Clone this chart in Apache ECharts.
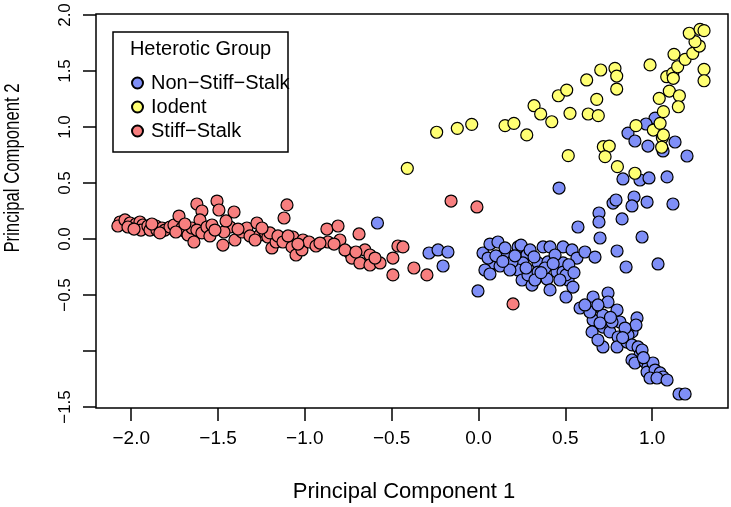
<!DOCTYPE html>
<html>
<head>
<meta charset="utf-8">
<script src="https://cdn.jsdelivr.net/npm/echarts@6/dist/echarts.min.js"></script>
<style>
html,body{margin:0;padding:0;background:#fff;}
#chart{width:731px;height:507px;}
</style>
</head>
<body>
<div id="chart"></div>
<script>
// ---- data (PC1, PC2) ----
const seriesNames = ['Non−Stiff−Stalk', 'Iodent', 'Stiff−Stalk'];
const xTicks = [-2.0, -1.5, -1.0, -0.5, 0.0, 0.5, 1.0];
const yTicks = [-1.5, -1.0, -0.5, 0.0, 0.5, 1.0, 1.5, 2.0];
const yTickLabels = [-1.5, -0.5, 0.0, 0.5, 1.0, 1.5, 2.0];

const nonStiffStalk = [
[-0.582,0.143],[-0.285,-0.125],[-0.233,-0.098],[-0.176,-0.116],[-0.204,-0.241],[-0.003,-0.464],
[0.026,-0.125],[0.066,-0.045],[0.112,-0.027],[0.084,-0.214],[0.037,-0.277],[0.066,-0.3125],
[0.164,-0.143],[0.124,-0.241],[0.228,-0.071],[0.245,-0.054],[0.279,-0.143],[0.256,-0.214],
[0.228,-0.277],[0.251,-0.366],[0.308,-0.411],[0.285,-0.321],[0.343,-0.214],[0.343,-0.295],
[0.372,-0.071],[0.412,-0.071],[0.400,-0.205],[0.395,-0.357],[0.412,-0.455],[0.452,-0.295],
[0.487,-0.071],[0.487,-0.214],[0.487,-0.295],[0.539,-0.098],[0.567,-0.170],[0.516,-0.366],
[0.544,-0.429],[0.504,-0.518],[0.613,-0.116],[0.671,-0.161],[0.573,0.107],[0.700,0.009],
[0.585,-0.616],[0.660,-0.518],[0.654,-0.616],[0.660,-0.723],[0.746,-0.482],[0.746,-0.5625],
[0.798,-0.634],[0.642,-0.652],[0.717,-0.679],[0.717,-0.786],[0.654,-0.830],[0.815,-0.741],
[0.757,-0.830],[0.804,-0.875],[0.717,-0.964],[0.798,-0.964],[0.855,-0.920],[0.884,-0.830],
[0.913,-0.705],[0.907,-0.768],[0.861,-0.857],[0.884,-0.946],[0.919,-0.964],[0.930,-1.036],
[0.884,-1.080],[0.901,-1.107],[0.959,-1.098],[0.976,-1.143],[0.971,-1.188],[1.005,-1.107],
[1.017,-1.170],[1.046,-1.196],[1.063,-1.232],[0.942,-0.991],[1.155,-1.384],[1.190,-1.384],
[0.504,-0.321],[0.464,0.455],[0.775,0.321],[0.792,0.348],[0.896,0.375],[0.884,0.295],
[0.971,0.330],[1.120,0.3125],[0.694,0.232],[0.694,0.152],[0.827,0.179],[0.942,0.018],
[0.798,-0.107],[0.850,-0.250],[1.034,-0.223],[0.832,0.536],[0.930,0.527],[0.982,0.545],
[1.086,0.554],[0.861,0.946],[0.901,0.875],[0.976,0.830],[1.132,0.866],[1.201,0.741],
[1.017,1.080],[0.965,1.027],[1.063,0.786],
[0.055,-0.170],[0.153,-0.080],[0.193,-0.205],[0.297,-0.098],[0.325,-0.366],[0.441,-0.143],
[0.383,-0.259],[0.181,-0.277],[0.274,-0.259],[0.469,-0.366],[0.613,-0.589],[0.688,-0.589],
[0.769,-0.741],[0.844,-0.795],[0.688,-0.902],[0.988,-1.241],[1.028,-1.241],[1.086,-1.259],
[0.100,-0.150],[0.140,-0.200],[0.210,-0.150],[0.320,-0.160],[0.360,-0.300],[0.430,-0.220],
[0.520,-0.230],[0.550,-0.300],[0.700,-0.750],[0.760,-0.700],[0.830,-0.880],[0.950,-1.060]
];

const iodent = [
[-0.410,0.631],[-0.241,0.953],[-0.122,0.988],[-0.039,1.024],[0.153,1.012],[0.204,1.033],
[0.278,0.929],[0.320,1.190],[0.358,1.116],[0.422,1.047],[0.460,1.279],[0.508,1.330],
[0.527,1.122],[0.517,0.744],[0.623,1.420],[0.632,1.116],[0.681,1.247],[0.690,1.101],
[0.704,1.509],[0.786,1.524],[0.796,1.455],[0.796,1.339],[0.719,0.824],[0.753,0.830],
[0.729,0.735],[0.800,0.646],[0.901,0.587],[0.907,1.012],[0.988,1.554],[1.007,0.973],
[1.046,1.033],[1.059,0.904],[1.055,0.819],[1.065,1.137],[1.041,1.256],[1.099,1.321],
[1.157,1.279],[1.151,1.181],[1.084,1.449],[1.119,1.479],[1.147,1.538],[1.126,1.649],
[1.190,1.604],[1.234,1.658],[1.272,1.723],[1.247,1.762],[1.214,1.837],[1.276,1.872],
[1.299,1.860],[1.299,1.515],[1.299,1.413],[1.122,1.435],[1.065,0.929]
];

const stiffStalk = [
[-2.065,0.152],[-2.077,0.116],[-2.036,0.170],[-2.007,0.143],[-1.973,0.134],[-1.950,0.152],
[-1.933,0.125],[-1.944,0.080],[-1.904,0.116],[-1.892,0.080],[-1.858,0.116],[-1.852,0.080],
[-1.823,0.098],[-1.806,0.080],[-1.777,0.107],[-1.754,0.125],[-1.725,0.205],[-1.708,0.098],
[-1.685,0.0625],[-1.673,0.036],[-1.650,0.098],[-1.622,0.3125],[-1.593,0.25],[-1.604,0.170],
[-1.622,0.080],[-1.593,0.054],[-1.564,0.107],[-1.639,-0.027],[-1.535,0.125],[-1.506,0.339],
[-1.495,0.259],[-1.408,0.241],[-1.431,0.107],[-1.466,0.0625],[-1.472,-0.054],[-1.403,-0.009],
[-1.362,0.0625],[-1.334,0.098],[-1.316,0.027],[-1.276,0.143],[-1.259,0.036],[-1.230,0.0625],
[-1.213,0.018],[-1.190,-0.080],[-1.166,-0.027],[-1.201,0.054],[-1.155,0.027],[-1.103,0.304],
[-1.120,0.1875],[-1.126,-0.027],[-1.069,0.018],[-1.074,-0.071],[-1.051,-0.143],[-1.017,-0.098],
[-1.011,-0.009],[-0.976,-0.027],[-0.936,-0.0625],[-0.873,0.089],[-0.809,0.116],[-0.867,-0.027],
[-0.798,-0.009],[-0.832,-0.045],[-0.688,0.045],[-0.740,-0.125],[-0.729,-0.170],[-0.683,-0.214],
[-0.654,-0.098],[-0.625,-0.143],[-0.625,-0.232],[-0.567,-0.214],[-0.493,-0.170],[-0.464,-0.0625],
[-0.435,-0.071],[-0.493,-0.321],[-0.372,-0.259],[-0.297,-0.321],[-0.158,0.339],[-0.009,0.286],
[0.199,-0.580],
[-2.019,0.107],[-1.984,0.089],[-1.881,0.134],[-1.835,0.054],[-1.743,0.0625],[-1.691,0.134],
[-1.547,0.027],[-1.518,0.080],[-1.454,0.161],[-1.385,0.089],[-1.287,-0.009],[-1.247,0.098],
[-1.097,0.027],[-1.040,-0.045],[-0.913,-0.036],[-0.769,-0.098],[-0.706,-0.116],[-0.596,-0.170]
];

// ---- chart ----
const FONT = '"Liberation Sans", Arial, Helvetica, sans-serif';
const colors = ['#7f8ff7', '#ffff73', '#f77f7f'];
const fmt = v => Number(v).toFixed(1).replace('-', '\u2212');

const chart = echarts.init(document.getElementById('chart'), null, {renderer: 'canvas'});

function scatter(name, data, color, z) {
  return {
    type: 'scatter', name: name, data: data, z: z,
    symbol: 'circle', symbolSize: 12,
    itemStyle: {color: color, borderColor: '#000', borderWidth: 1.2, opacity: 1},
    emphasis: {disabled: true},
    animation: false
  };
}

chart.setOption({
  animation: false,
  backgroundColor: '#fff',
  textStyle: {fontFamily: FONT},
  grid: {left: 96, right: 3, top: 14, bottom: 99, show: true, borderColor: '#000', borderWidth: 1.5, backgroundColor: 'transparent'},
  xAxis: {
    type: 'value', min: -2.203, max: 1.437, position: 'bottom',
    splitLine: {show: false},
    axisLine: {show: false, onZero: false},
    axisTick: {show: true, inside: false, length: 13, lineStyle: {color: '#000', width: 1.5}, customValues: xTicks},
    axisLabel: {show: true, margin: 21, color: '#000', fontSize: 19, fontFamily: FONT, customValues: xTicks, formatter: fmt}
  },
  yAxis: {
    type: 'value', min: -1.509, max: 2.009, position: 'left',
    splitLine: {show: false},
    axisLine: {show: false, onZero: false},
    axisTick: {show: true, inside: false, length: 13, lineStyle: {color: '#000', width: 1.5}, customValues: yTicks},
    axisLabel: {show: true, margin: 22, rotate: 90, color: '#000', fontSize: 17, fontFamily: FONT, customValues: yTickLabels, formatter: fmt}
  },
  legend: {
    orient: 'vertical', left: 126, top: 68,
    itemWidth: 11, itemHeight: 11, itemGap: 4,
    icon: 'circle',
    data: seriesNames,
    textStyle: {fontSize: 20, fontFamily: FONT, color: '#000', lineHeight: 20, padding: [0, 0, 0, 3]},
    selectedMode: false
  },
  graphic: [
    {type: 'rect', z: 1, silent: true, shape: {x: 113, y: 32, width: 175, height: 120},
     style: {fill: 'rgba(255,255,255,0)', stroke: '#000', lineWidth: 1.5}},
    {type: 'text', z: 2, silent: true, x: 200.5, y: 49,
     style: {text: 'Heterotic Group', font: '20px ' + FONT, fill: '#000', textAlign: 'center', textVerticalAlign: 'middle'}},
    {type: 'text', z: 2, silent: true, x: 404, y: 492,
     style: {text: 'Principal Component 1', font: '22px ' + FONT, fill: '#000', textAlign: 'center', textVerticalAlign: 'middle'}},
    {type: 'text', z: 2, silent: true, x: 13, y: 168, rotation: Math.PI / 2, scaleX: 0.76, scaleY: 1,
     style: {text: 'Principal Component 2', font: '22px ' + FONT, fill: '#000', textAlign: 'center', textVerticalAlign: 'middle'}}
  ],
  series: [
    scatter(seriesNames[0], nonStiffStalk, colors[0], 2),
    scatter(seriesNames[2], stiffStalk, colors[2], 3),
    scatter(seriesNames[1], iodent, colors[1], 4)
  ]
});
</script>
</body>
</html>
